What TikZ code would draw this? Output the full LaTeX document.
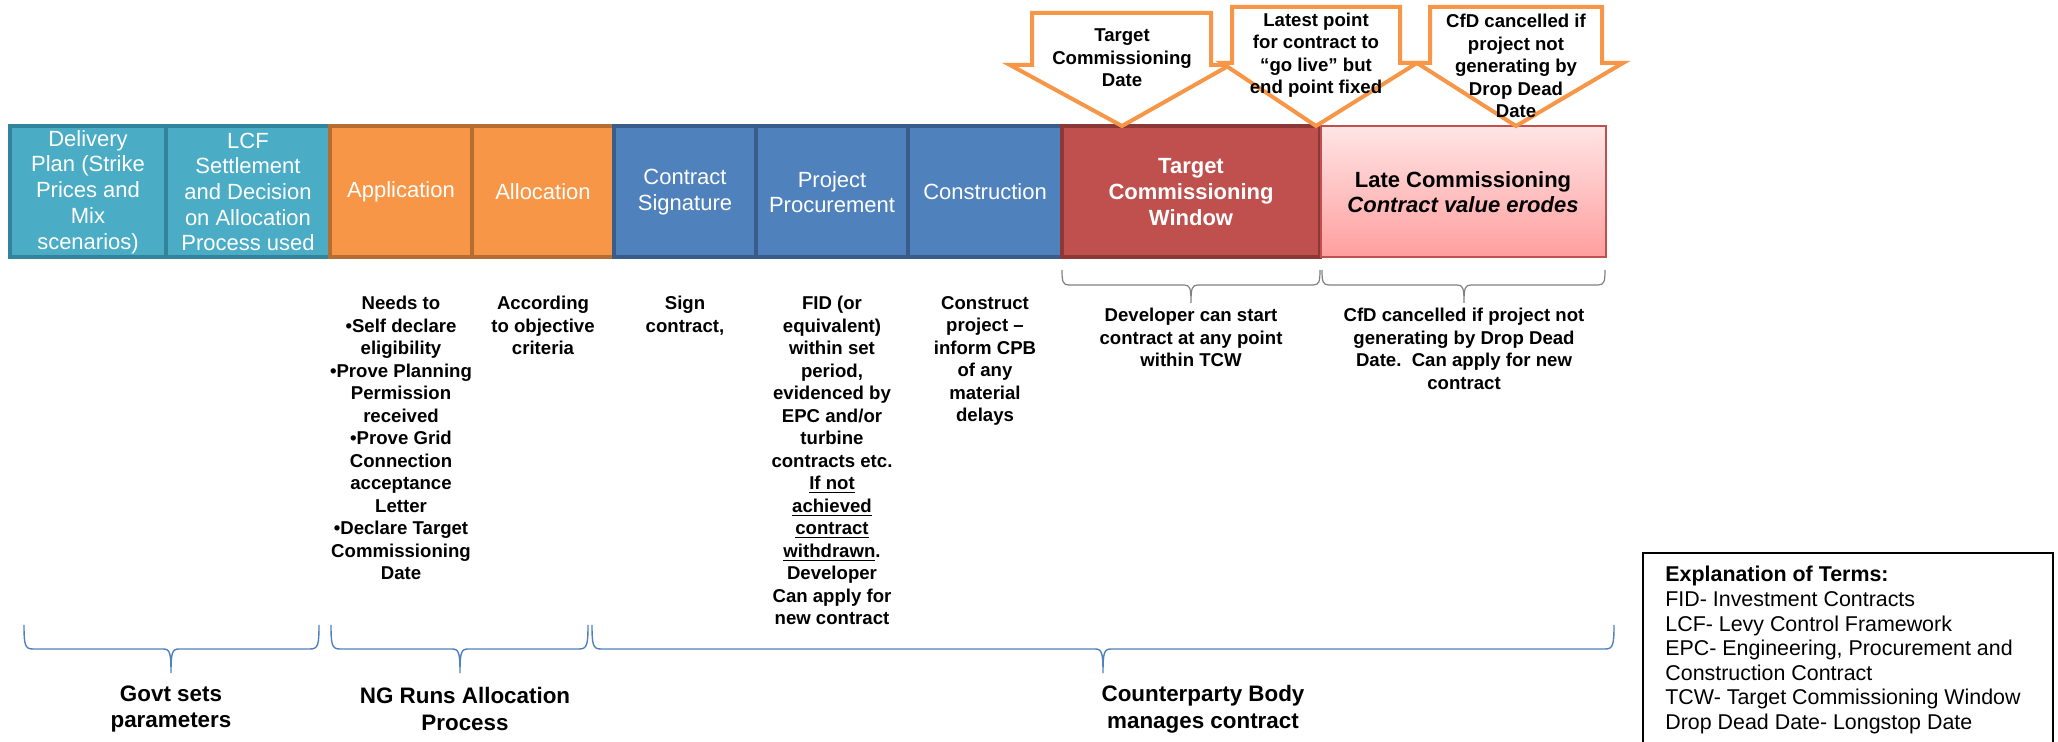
\documentclass[tikz,border=0pt]{standalone}
\usepackage{fontspec}
\setmainfont{Liberation Sans}

\definecolor{tealfill}{RGB}{75,172,198}
\definecolor{tealline}{RGB}{49,132,155}
\definecolor{orangefill}{RGB}{247,150,70}
\definecolor{orangeline}{RGB}{182,109,49}
\definecolor{bluefill}{RGB}{79,129,189}
\definecolor{blueline}{RGB}{56,93,138}
\definecolor{redfill}{RGB}{192,80,77}
\definecolor{redline}{RGB}{140,56,54}
\definecolor{pinktop}{RGB}{255,229,229}
\definecolor{pinkbottom}{RGB}{255,158,158}
\definecolor{bracegray}{RGB}{128,128,128}

\newcommand{\boxfont}{\fontsize{11}{12.85}\selectfont}
\newcommand{\notefont}{\fontsize{9.3}{11.25}\selectfont\bfseries}

\begin{document}
\begin{tikzpicture}[x=0.5pt,y=0.5pt,yscale=-1,xscale=1,
  tealbox/.style={fill=tealfill,draw=tealline,line width=1.8pt},
  orangebox/.style={fill=orangefill,draw=orangeline,line width=1.8pt},
  bluebox/.style={fill=bluefill,draw=blueline,line width=1.8pt},
  redbox/.style={fill=redfill,draw=redline,line width=1.8pt},
  latebox/.style={draw=redfill,line width=0.7pt,top color=pinktop,bottom color=pinkbottom},
  callout/.style={fill=white,draw=orangefill,line width=2pt},
  boxtext/.style={align=center,text=white,font=\boxfont,inner sep=0pt},
  notetext/.style={align=center,font=\notefont,inner sep=0pt},
  grouptext/.style={align=center,font=\fontsize{11.2}{13.4}\selectfont\bfseries,inner sep=0pt},
  termtext/.style={align=left,font=\fontsize{10.7}{12.3}\selectfont,inner sep=0pt},
  graybrace/.style={draw=bracegray,line width=0.6pt},
  bluebrace/.style={draw=bluefill,line width=0.7pt}]
\useasboundingbox (0,0) rectangle (2058,742);

%Shape: Rectangle
\draw[tealbox] (10,126) rectangle (166,257);
%Shape: Rectangle
\draw[tealbox] (166,126) rectangle (330,257);
%Shape: Rectangle
\draw[orangebox] (330,126) rectangle (472,257);
%Shape: Rectangle
\draw[orangebox] (472,126) rectangle (614,257);
%Shape: Rectangle
\draw[bluebox] (614,126) rectangle (756,257);
%Shape: Rectangle
\draw[bluebox] (756,126) rectangle (908,257);
%Shape: Rectangle
\draw[bluebox] (908,126) rectangle (1062,257);
%Shape: Rectangle
\draw[redbox] (1062,126) rectangle (1320,257);
%Shape: Rectangle
\draw[latebox] (1321,126) rectangle (1606,257);

% Text Node
\node[boxtext] (delivery) at (88,192) {Delivery\\Plan (Strike\\Prices and\\Mix\\scenarios)};
% Text Node
\node[boxtext] (lcf) at (248,192) {LCF\\Settlement\\and Decision\\on Allocation\\Process used};
% Text Node
\node[boxtext] (application) at (401,192) {Application};
% Text Node
\node[boxtext] (allocation) at (543,192) {Allocation};
% Text Node
\node[boxtext] (signature) at (685,192) {Contract\\Signature};
% Text Node
\node[boxtext] (procurement) at (832,192) {Project\\Procurement};
% Text Node
\node[boxtext] (construction) at (985,192) {Construction};
% Text Node
\node[boxtext,font=\boxfont\bfseries] (window) at (1191,192) {Target\\Commissioning\\Window};
% Text Node
\node[boxtext,text=black,font=\boxfont\bfseries] (late) at (1463,192) {Late Commissioning\\\textit{Contract value erodes}};

%Shape: Down Arrow
\draw[callout] (1032,13) -- (1211,13) -- (1211,65) -- (1230,65) -- (1122,126) -- (1010,65) -- (1032,65) -- cycle;
%Shape: Down Arrow
\draw[callout] (1232,7) -- (1400,7) -- (1400,63) -- (1417,63) -- (1316,126) -- (1222,63) -- (1232,63) -- cycle;
%Shape: Down Arrow
\draw[callout] (1430,7) -- (1602,7) -- (1602,63) -- (1623,63) -- (1516,126) -- (1417,63) -- (1430,63) -- cycle;

% Text Node
\node[notetext] (tcdate) at (1122,58) {Target\\Commissioning\\Date};
% Text Node
\node[notetext] (golive) at (1316,55) {Latest point\\for contract to\\“go live” but\\end point fixed};
% Text Node
\node[notetext] (dropdead) at (1516,66) {CfD cancelled if\\project not\\generating by\\Drop Dead\\Date};

% Text Node
\node[notetext,anchor=north] (applynote) at (401,296) {Needs to\\•Self declare\\eligibility\\•Prove Planning\\Permission\\received\\•Prove Grid\\Connection\\acceptance\\Letter\\•Declare Target\\Commissioning\\Date};
% Text Node
\node[notetext,anchor=north] (allocnote) at (543,296) {According\\to objective\\criteria};
% Text Node
\node[notetext,anchor=north] (signnote) at (685,296) {Sign\\contract,};
% Text Node
\node[notetext,anchor=north] (fidnote) at (832,296) {FID (or\\equivalent)\\within set\\period,\\evidenced by\\EPC and/or\\turbine\\contracts etc.\\\underline{If not}\\\underline{achieved}\\\underline{contract}\\\underline{withdrawn}.\\Developer\\Can apply for\\new contract};
% Text Node
\node[notetext,anchor=north] (buildnote) at (985,296) {Construct\\project –\\inform CPB\\of any\\material\\delays};

%Shape: Brace
\draw[graybrace] (1062,270) .. controls (1062,282) and (1063,285) .. (1069,285) -- (1184,285) .. controls (1190,285) and (1191,288) .. (1191,303) .. controls (1191,288) and (1192,285) .. (1198,285) -- (1313,285) .. controls (1319,285) and (1320,282) .. (1320,270);
%Shape: Brace
\draw[graybrace] (1322,270) .. controls (1322,282) and (1323,285) .. (1329,285) -- (1457,285) .. controls (1463,285) and (1464,288) .. (1464,303) .. controls (1464,288) and (1465,285) .. (1471,285) -- (1598,285) .. controls (1604,285) and (1605,282) .. (1605,270);

% Text Node
\node[notetext,anchor=north] (tcwnote) at (1191,308) {Developer can start\\contract at any point\\within TCW};
% Text Node
\node[notetext,anchor=north] (latenote) at (1464,308) {CfD cancelled if project not\\generating by Drop Dead\\Date.~~Can apply for new\\contract};

%Shape: Brace
\draw[bluebrace] (24,625) .. controls (24,645) and (25,649) .. (33,649) -- (163,649) .. controls (170,649) and (171,653) .. (171,673) .. controls (171,653) and (172,649) .. (179,649) -- (310,649) .. controls (318,649) and (319,645) .. (319,625);
%Shape: Brace
\draw[bluebrace] (331,625) .. controls (331,645) and (332,649) .. (340,649) -- (452,649) .. controls (459,649) and (460,653) .. (460,673) .. controls (460,653) and (461,649) .. (468,649) -- (579,649) .. controls (587,649) and (588,645) .. (588,625);
%Shape: Brace
\draw[bluebrace] (592,625) .. controls (592,645) and (593,649) .. (601,649) -- (1095,649) .. controls (1102,649) and (1103,653) .. (1103,673) .. controls (1103,653) and (1104,649) .. (1111,649) -- (1605,649) .. controls (1613,649) and (1614,645) .. (1614,625);

% Text Node
\node[grouptext] (govt) at (171,709) {Govt sets\\parameters};
% Text Node
\node[grouptext] (ngrun) at (465,709) {NG Runs Allocation\\Process};
% Text Node
\node[grouptext] (cpb) at (1203,709) {Counterparty Body\\manages contract};

%Shape: Rectangle, runs off the bottom edge
\draw[line width=0.8pt] (1643,750) -- (1643,553) -- (2053,553) -- (2053,750);
% Text Node
\node[termtext,anchor=north west] (terms) at (1665,566) {\textbf{Explanation of Terms:}\\FID- Investment Contracts\\LCF- Levy Control Framework\\EPC- Engineering, Procurement and\\Construction Contract\\TCW- Target Commissioning Window\\Drop Dead Date- Longstop Date};

\end{tikzpicture}
\end{document}
